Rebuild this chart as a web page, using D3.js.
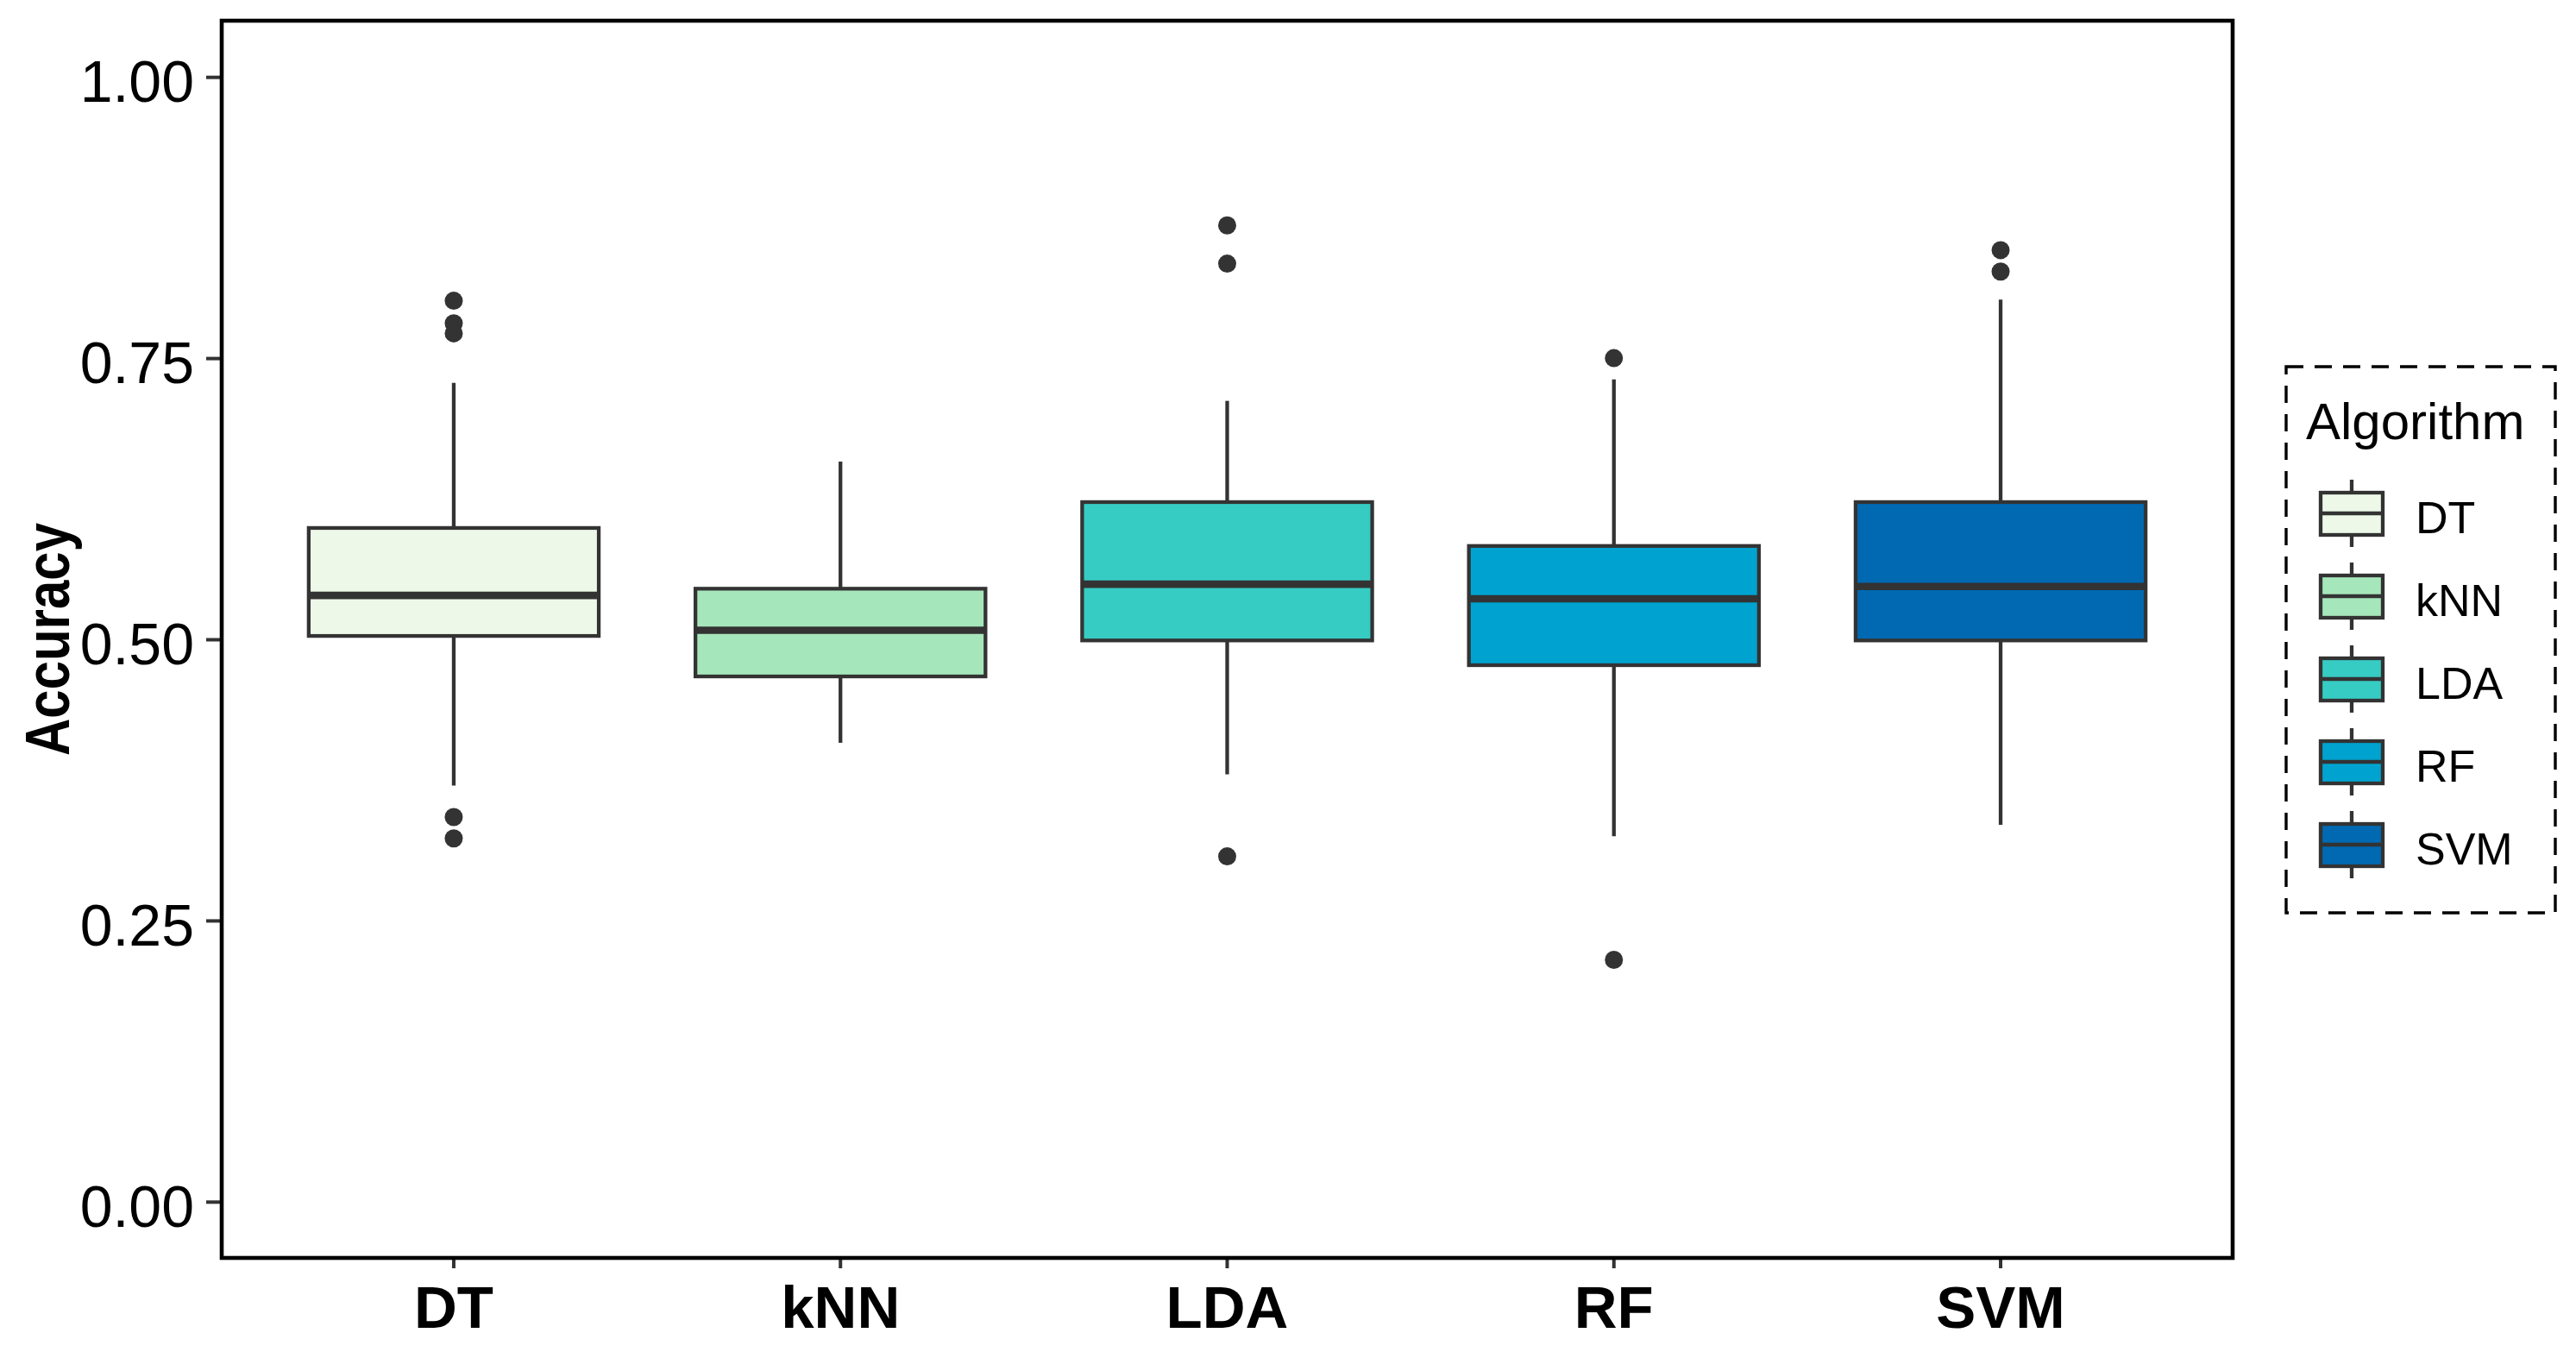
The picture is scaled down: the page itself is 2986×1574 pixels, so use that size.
<!DOCTYPE html>
<html>
<head>
<meta charset="utf-8">
<script src="https://cdn.jsdelivr.net/npm/d3@7"></script>
<style>
  body { margin: 0; background: #fff; }
  svg { display: block; font-family: "Liberation Sans", Arial, sans-serif; }
</style>
</head>
<body>
<svg id="chart" width="2986" height="1574"></svg>
<script>
// categories and their box colours
let ALGORITHMS = ['DT', 'kNN', 'LDA', 'RF', 'SVM'];
let FILLS = ['#edf8e9', '#a6e6bb', '#36ccc4', '#00a3cf', '#0069b2'];

// five number summaries (whisker low, Q1, median, Q3, whisker high)
let WHISKER_LOW = [0.370, 0.408, 0.380, 0.325, 0.335];
let Q1 = [0.503, 0.467, 0.499, 0.477, 0.499];
let MEDIAN = [0.539, 0.508, 0.549, 0.536, 0.547];
let Q3 = [0.599, 0.545, 0.622, 0.583, 0.622];
let WHISKER_HIGH = [0.728, 0.658, 0.712, 0.731, 0.802];

// outlying points per algorithm
let OUTLIERS = [
    [0.801, 0.781, 0.772, 0.342, 0.323],
    [],
    [0.868, 0.834, 0.307],
    [0.750, 0.215],
    [0.846, 0.827]
];

let Y_TICKS = [0, 0.25, 0.5, 0.75, 1];

let LINE = '#333333';

let svg = d3.select('#chart');

// panel area in pixels
let panelLeft = 257, panelRight = 2588, panelTop = 24, panelBottom = 1458;

// ggplot style discrete axis: 0.6 of a step on each side
let x = d3.scaleBand()
    .domain(ALGORITHMS)
    .range([panelLeft, panelRight])
    .paddingInner(0)
    .paddingOuter(0.1);

let y = d3.scaleLinear()
    .domain([-0.05, 1.05])
    .range([panelBottom, panelTop]);

let boxWidth = x.step() * 0.75;

let data = ALGORITHMS.map((name, i) => ({
    name: name,
    fill: FILLS[i],
    low: WHISKER_LOW[i],
    q1: Q1[i],
    median: MEDIAN[i],
    q3: Q3[i],
    high: WHISKER_HIGH[i],
    outliers: OUTLIERS[i]
}));

let boxes = svg.append('g').selectAll('g').data(data).enter().append('g')
    .attr('transform', d => `translate(${x(d.name) + x.bandwidth() / 2},0)`);

// whiskers
boxes.append('line')
    .attr('y1', d => y(d.q3)).attr('y2', d => y(d.high))
    .attr('stroke', LINE).attr('stroke-width', 4.3);
boxes.append('line')
    .attr('y1', d => y(d.q1)).attr('y2', d => y(d.low))
    .attr('stroke', LINE).attr('stroke-width', 4.3);

// the box itself
boxes.append('rect')
    .attr('x', -boxWidth / 2)
    .attr('width', boxWidth)
    .attr('y', d => y(d.q3))
    .attr('height', d => y(d.q1) - y(d.q3))
    .attr('fill', d => d.fill)
    .attr('stroke', LINE)
    .attr('stroke-width', 4.3);

// median line
boxes.append('line')
    .attr('x1', -boxWidth / 2).attr('x2', boxWidth / 2)
    .attr('y1', d => y(d.median)).attr('y2', d => y(d.median))
    .attr('stroke', LINE).attr('stroke-width', 8.6);

// outliers
boxes.selectAll('circle').data(d => d.outliers).enter().append('circle')
    .attr('cy', v => y(v))
    .attr('r', 10.5)
    .attr('fill', LINE);

// axes
let yAxis = svg.append('g')
    .attr('transform', `translate(${panelLeft},0)`)
    .call(d3.axisLeft(y).tickValues(Y_TICKS).tickFormat(d3.format('.2f')).tickSize(18).tickPadding(14));
yAxis.select('.domain').remove();
yAxis.selectAll('line').attr('stroke', LINE).attr('stroke-width', 4);
yAxis.selectAll('text')
    .attr('font-size', 68)
    .attr('fill', '#000')
    .attr('dy', '0.42em');

let xAxis = svg.append('g')
    .attr('transform', `translate(0,${panelBottom})`)
    .call(d3.axisBottom(x).tickSize(12).tickPadding(20));
xAxis.select('.domain').remove();
xAxis.selectAll('line').attr('stroke', LINE).attr('stroke-width', 4);
xAxis.selectAll('text')
    .attr('font-size', 69)
    .attr('font-weight', 'bold')
    .attr('fill', '#000')
    .attr('dy', '0.71em');

// panel border
svg.append('rect')
    .attr('x', panelLeft).attr('y', panelTop)
    .attr('width', panelRight - panelLeft).attr('height', panelBottom - panelTop)
    .attr('fill', 'none')
    .attr('stroke', '#000')
    .attr('stroke-width', 4.6);

// y axis title
svg.append('text')
    .attr('transform', `translate(80,${(panelTop + panelBottom) / 2}) rotate(-90)`)
    .attr('text-anchor', 'middle')
    .attr('font-size', 72)
    .attr('font-weight', 'bold')
    .attr('textLength', 270)
    .attr('lengthAdjust', 'spacingAndGlyphs')
    .text('Accuracy');

// legend
let legend = svg.append('g');
legend.append('rect')
    .attr('x', 2650).attr('y', 425)
    .attr('width', 312).attr('height', 633)
    .attr('fill', 'none')
    .attr('stroke', '#000')
    .attr('stroke-width', 3.4)
    .attr('stroke-dasharray', '20,13');

legend.append('text')
    .attr('x', 2673).attr('y', 509)
    .attr('font-size', 60)
    .text('Algorithm');

let keyY = d3.scalePoint().domain(ALGORITHMS).range([595, 979]);

let keys = legend.selectAll('g.key').data(data).enter().append('g')
    .attr('class', 'key')
    .attr('transform', d => `translate(2726,${keyY(d.name)})`);

keys.append('line')
    .attr('y1', -39).attr('y2', 39)
    .attr('stroke', LINE).attr('stroke-width', 4.3);
keys.append('rect')
    .attr('x', -36).attr('y', -24)
    .attr('width', 72).attr('height', 49)
    .attr('fill', d => d.fill)
    .attr('stroke', LINE)
    .attr('stroke-width', 4.3);
keys.append('line')
    .attr('x1', -36).attr('x2', 36)
    .attr('stroke', LINE).attr('stroke-width', 4.3);

keys.append('text')
    .attr('x', 74).attr('y', 23)
    .attr('font-size', 52)
    .text(d => d.name);
</script>
</body>
</html>
